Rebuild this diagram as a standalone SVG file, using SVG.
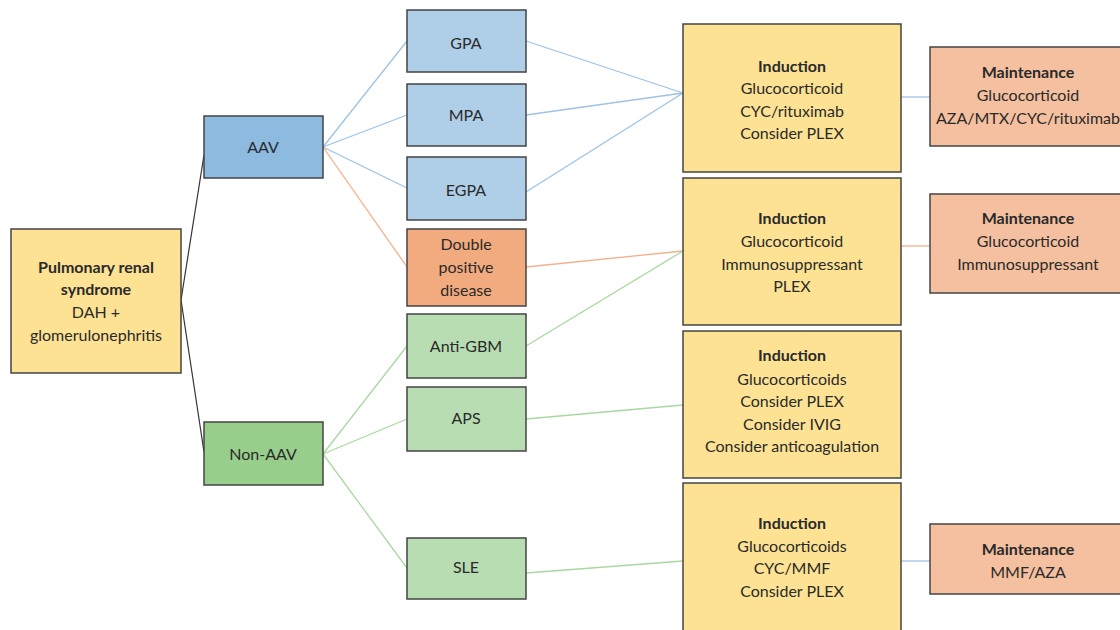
<svg xmlns="http://www.w3.org/2000/svg" width="1120" height="630" viewBox="0 0 1120 630">
<style>
.b{stroke:#444;stroke-width:1.5}
.y{fill:#FDE294}
.ab{fill:#8DBBE0}
.lb{fill:#AFCEE7}
.or{fill:#F2AB7E}
.gn{fill:#B8DDB2}
.dg{fill:#98CE8C}
.mt{fill:#F4C09F}
text{font-family:Lato,"Noto Sans","Liberation Sans",sans-serif;font-size:16px;fill:#2a2a2a;text-anchor:middle}
.h{font-weight:bold}
.cb{stroke:#9DC3E6;stroke-width:1.3;fill:none}
.co{stroke:#F4B08A;stroke-width:1.3;fill:none}
.cg{stroke:#A9D8A0;stroke-width:1.3;fill:none}
.ck{stroke:#333;stroke-width:1.2;fill:none}
</style>
<rect width="1120" height="630" fill="#fff"/>
<g id="connectors">
<path class="ck" d="M181 300 L204 155"/>
<path class="ck" d="M181 300 L204 452"/>
<path class="cb" d="M323 147 L407 41 M323 147 L407 115 M323 147 L407 188"/>
<path class="co" d="M323 147 L407 267"/>
<path class="cg" d="M323 454 L407 346 M323 454 L407 419 M323 454 L407 568"/>
<path class="cb" d="M526 41 L683 93 M526 115 L683 93 M526 192 L683 93"/>
<path class="co" d="M526 267 L683 251"/>
<path class="cg" d="M526 346 L683 251"/>
<path class="cg" d="M526 419 L683 405"/>
<path class="cg" d="M526 573 L683 561"/>
<path class="cb" d="M901 97 L930 97"/>
<path class="co" d="M901 246 L930 246"/>
<path class="cb" d="M901 561 L930 561"/>
</g>
<g id="root">
<rect class="b y" x="11" y="229" width="170" height="144"/>
<text class="h" x="96" y="273">Pulmonary renal</text>
<text class="h" x="96" y="295">syndrome</text>
<text x="96" y="318">DAH +</text>
<text x="96" y="341">glomerulonephritis</text>
</g>
<g id="aav"><rect class="b ab" x="204" y="116" width="119" height="62"/><text x="263" y="153">AAV</text></g>
<g id="nonaav"><rect class="b dg" x="204" y="422" width="119" height="63"/><text x="263" y="460">Non-AAV</text></g>
<g id="gpa"><rect class="b lb" x="407" y="10" width="119" height="62"/><text x="466" y="49">GPA</text></g>
<g id="mpa"><rect class="b lb" x="407" y="84" width="119" height="62"/><text x="466" y="121">MPA</text></g>
<g id="egpa"><rect class="b lb" x="407" y="157" width="119" height="63"/><text x="466" y="196">EGPA</text></g>
<g id="double"><rect class="b or" x="407" y="229" width="119" height="77"/>
<text x="466" y="250">Double</text><text x="466" y="273">positive</text><text x="466" y="296">disease</text></g>
<g id="antigbm"><rect class="b gn" x="407" y="314" width="119" height="64"/><text x="466" y="352">Anti-GBM</text></g>
<g id="aps"><rect class="b gn" x="407" y="387" width="119" height="64"/><text x="466" y="424">APS</text></g>
<g id="sle"><rect class="b gn" x="407" y="538" width="119" height="61"/><text x="466" y="573">SLE</text></g>
<g id="ind1"><rect class="b y" x="683" y="24" width="218" height="148"/>
<text class="h" x="792" y="72">Induction</text><text x="792" y="94">Glucocorticoid</text><text x="792" y="117">CYC/rituximab</text><text x="792" y="139">Consider PLEX</text></g>
<g id="ind2"><rect class="b y" x="683" y="178" width="218" height="147"/>
<text class="h" x="792" y="224">Induction</text><text x="792" y="247">Glucocorticoid</text><text x="792" y="270">Immunosuppressant</text><text x="792" y="292">PLEX</text></g>
<g id="ind3"><rect class="b y" x="683" y="331" width="218" height="147"/>
<text class="h" x="792" y="361">Induction</text><text x="792" y="385">Glucocorticoids</text><text x="792" y="407">Consider PLEX</text><text x="792" y="430">Consider IVIG</text><text x="792" y="452">Consider anticoagulation</text></g>
<g id="ind4"><rect class="b y" x="683" y="483" width="218" height="160"/>
<text class="h" x="792" y="529">Induction</text><text x="792" y="552">Glucocorticoids</text><text x="792" y="574">CYC/MMF</text><text x="792" y="597">Consider PLEX</text></g>
<g id="maint1"><rect class="b mt" x="930" y="47" width="196" height="99"/>
<text class="h" x="1028" y="78">Maintenance</text><text x="1028" y="101">Glucocorticoid</text><text x="1028" y="124">AZA/MTX/CYC/rituximab</text></g>
<g id="maint2"><rect class="b mt" x="930" y="194" width="196" height="99"/>
<text class="h" x="1028" y="224">Maintenance</text><text x="1028" y="247">Glucocorticoid</text><text x="1028" y="270">Immunosuppressant</text></g>
<g id="maint3"><rect class="b mt" x="930" y="524" width="196" height="70"/>
<text class="h" x="1028" y="555">Maintenance</text><text x="1028" y="578">MMF/AZA</text></g>
</svg>
